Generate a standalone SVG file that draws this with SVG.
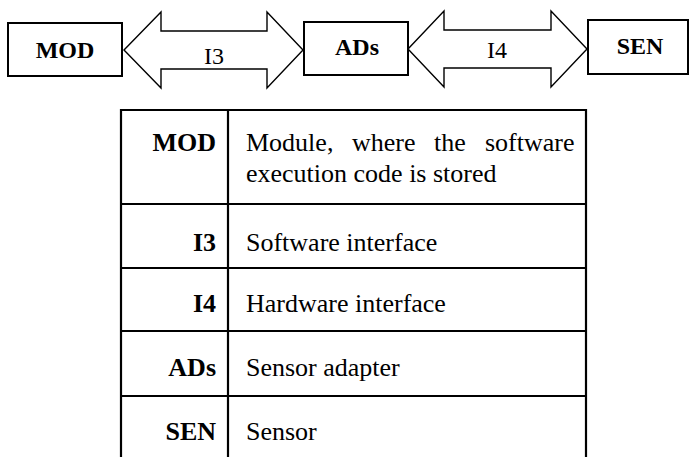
<svg xmlns="http://www.w3.org/2000/svg" width="689" height="457" viewBox="0 0 689 457" font-family="Liberation Serif, Times New Roman, serif">
  <style>
    .box { fill: #ffffff; stroke: #000000; stroke-width: 2; }
    .arrow { fill: #ffffff; stroke: #000000; stroke-width: 1.4; stroke-linejoin: miter; }
    .node-label { font-size: 24px; font-weight: bold; text-anchor: middle; fill: #000000; }
    .link-label { font-size: 24px; text-anchor: middle; fill: #000000; }
    .rule { stroke: #000000; stroke-width: 2.2; fill: none; }
    .key { font-size: 26px; font-weight: bold; text-anchor: end; fill: #000000; }
    .desc { font-size: 26px; fill: #000000; }
  </style>
  <rect width="689" height="457" fill="#ffffff"/>

  <!-- interface connectors -->
  <g id="connectors">
    <g id="link-I3">
      <polygon class="arrow" points="124,50 161,12 161,31 267,31 267,12 303,50 267,88 267,69 161,69 161,88"/>
      <text class="link-label" x="214" y="64" font-family="Liberation Serif, serif">I3</text>
    </g>
    <g id="link-I4">
      <polygon class="arrow" points="408,49 444,11 444,30 551,30 551,11 587,49 551,87 551,68 444,68 444,87"/>
      <text class="link-label" x="497" y="58" font-family="Liberation Serif, serif">I4</text>
    </g>
  </g>

  <!-- component nodes -->
  <g id="node-MOD">
    <rect class="box" x="8" y="23" width="114" height="53"/>
    <text class="node-label" x="65" y="58" font-family="Liberation Serif, serif">MOD</text>
  </g>
  <g id="node-ADs">
    <rect class="box" x="304" y="22" width="104" height="53"/>
    <text class="node-label" x="357" y="55" font-family="Liberation Serif, serif">ADs</text>
  </g>
  <g id="node-SEN">
    <rect class="box" x="588" y="20" width="100" height="54"/>
    <text class="node-label" x="640" y="54" font-family="Liberation Serif, serif">SEN</text>
  </g>

  <!-- legend table -->
  <g id="legend" font-family="Liberation Serif, serif">
    <line class="rule" x1="121" y1="110" x2="587" y2="110" stroke-width="2.6"/>
    <line class="rule" x1="121" y1="204" x2="587" y2="204"/>
    <line class="rule" x1="121" y1="268" x2="587" y2="268"/>
    <line class="rule" x1="121" y1="331" x2="587" y2="331"/>
    <line class="rule" x1="121" y1="396" x2="587" y2="396"/>
    <line class="rule" x1="121" y1="109" x2="121" y2="457"/>
    <line class="rule" x1="586" y1="109" x2="586" y2="457"/>
    <line class="rule" x1="228" y1="110" x2="228" y2="457"/>

    <text class="key" x="216" y="151">MOD</text>
    <text class="desc" y="151"><tspan x="246">Module,</tspan><tspan x="352">where</tspan><tspan x="434">the</tspan><tspan x="485">software</tspan></text>
    <text class="desc" x="246" y="182">execution code is stored</text>

    <text class="key" x="216" y="251">I3</text>
    <text class="desc" x="246" y="251">Software interface</text>

    <text class="key" x="216" y="312">I4</text>
    <text class="desc" x="246" y="312">Hardware interface</text>

    <text class="key" x="216" y="376">ADs</text>
    <text class="desc" x="246" y="376">Sensor adapter</text>

    <text class="key" x="216" y="440">SEN</text>
    <text class="desc" x="246" y="440">Sensor</text>
  </g>
</svg>
